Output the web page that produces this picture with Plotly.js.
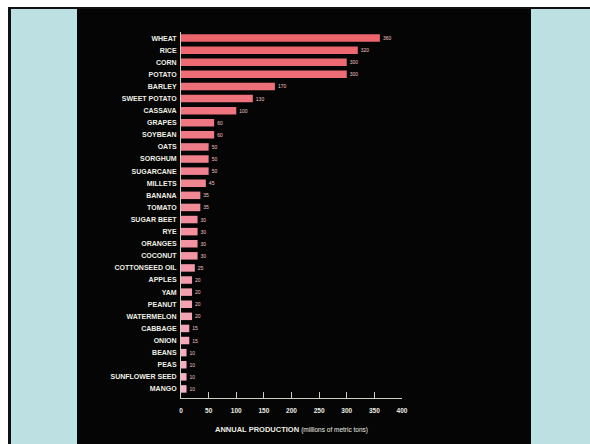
<!DOCTYPE html>
<html>
<head>
<meta charset="utf-8">
<script src="https://cdn.plot.ly/plotly-3.0.1.min.js"></script>
<style>html,body{margin:0;padding:0;background:#fff;}#chart{width:590px;height:444px;}</style>
</head>
<body>
<div id="chart"></div>
<script>
const crops = ["WHEAT","RICE","CORN","POTATO","BARLEY","SWEET POTATO","CASSAVA","GRAPES","SOYBEAN","OATS","SORGHUM","SUGARCANE","MILLETS","BANANA","TOMATO","SUGAR BEET","RYE","ORANGES","COCONUT","COTTONSEED OIL","APPLES","YAM","PEANUT","WATERMELON","CABBAGE","ONION","BEANS","PEAS","SUNFLOWER SEED","MANGO"];
const production = [360,320,300,300,170,130,100,60,60,50,50,50,45,35,35,30,30,30,30,25,20,20,20,20,15,15,10,10,10,10];
const xTicks = [0,50,100,150,200,250,300,350,400];
const xTitle = "<b>ANNUAL PRODUCTION</b> <span style='font-size:6.5px'>(millions of metric tons)</span>";

const W = 590, H = 444;
const M = {l:181, r:188, t:32, b:46};
const pw = W - M.l - M.r, ph = H - M.t - M.b;
const fx = px => (px - M.l) / pw;
const fy = py => (H - M.b - py) / ph;
function rect(x0,y0,x1,y1,color){
  return {type:'rect', xref:'paper', yref:'paper', layer:'below',
    x0:fx(x0), x1:fx(x1), y0:fy(y1), y1:fy(y0),
    fillcolor:color, line:{width:0}};
}
const n = crops.length;
const colors = crops.map((c,i)=>{
  const t = i/(n-1);
  const r = Math.round(236 + (246-236)*t);
  const g = Math.round(100 + (180-100)*t);
  const b = Math.round(108 + (200-108)*t);
  return `rgb(${r},${g},${b})`;
});

const trace = {
  type:'bar', orientation:'h',
  x: production, y: crops,
  marker:{color: colors, line:{width:0}},
  text: production.map(String),
  textposition:'outside',
  textfont:{family:'Liberation Sans, Arial, sans-serif', size:5, color:'#f2c4c4'},
  cliponaxis:false,
  hoverinfo:'none'
};

const layout = {
  width:W, height:H,
  margin:M,
  paper_bgcolor:'#ffffff',
  plot_bgcolor:'rgba(0,0,0,0)',
  showlegend:false,
  bargap:0.38,
  shapes:[
    rect(8,7,590,444,'#bde0e3'),
    rect(8,7,590,9,'#111111'),
    rect(8,7,11,444,'#111111'),
    rect(77,9,531,444,'#050505')
  ],
  xaxis:{
    range:[0,400], tickvals:xTicks, ticktext:xTicks.map(String),
    showgrid:false, zeroline:false,
    showline:true, linecolor:'#cfcfc0', linewidth:1,
    ticks:'inside', ticklen:6, tickwidth:1, tickcolor:'#cfcfc0',
    ticklabelstandoff:6,
    tickfont:{family:'Liberation Sans, Arial, sans-serif', size:6.5, color:'#eeeee4', weight:'bold'},
    title:{text:xTitle, standoff:13, font:{family:'Liberation Sans, Arial, sans-serif', size:7.5, color:'#eeeee4'}},
    fixedrange:true
  },
  yaxis:{
    type:'category', range:[n-0.25, -0.5], autorange:false,
    showgrid:false, zeroline:false,
    showline:true, linecolor:'#cfcfc0', linewidth:1,
    ticks:'', ticklabelstandoff:2,
    tickfont:{family:'Liberation Sans, Arial, sans-serif', size:7, color:'#eeeee4', weight:'bold'},
    fixedrange:true
  }
};

Plotly.newPlot('chart',[trace],layout,{displayModeBar:false, staticPlot:true});
</script>
</body>
</html>
